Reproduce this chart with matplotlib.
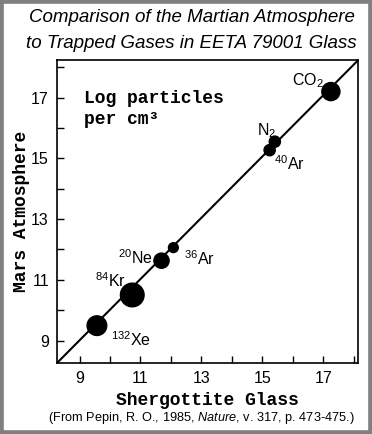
import matplotlib.pyplot as plt
from matplotlib.patches import Rectangle

plt.rcParams["mathtext.fontset"] = "custom"
plt.rcParams["mathtext.rm"] = "Liberation Sans"
plt.rcParams["mathtext.it"] = "Liberation Sans:italic"

# log particles per cm^3
gases = ["132Xe", "84Kr", "20Ne", "36Ar", "40Ar", "N2", "CO2"]
glass = [9.57, 10.73, 11.69, 12.08, 15.24, 15.41, 17.25]
mars = [9.49, 10.50, 11.63, 12.06, 15.27, 15.55, 17.20]
dot_sizes = [200, 290, 120, 50, 65, 65, 170]
labels = [r"$\mathrm{^{132}Xe}$", r"$\mathrm{^{84}Kr}$", r"$\mathrm{^{20}Ne}$",
          r"$\mathrm{^{36}Ar}$", r"$\mathrm{^{40}Ar}$", r"$\mathrm{N_2}$", r"$\mathrm{CO_2}$"]
label_offsets = [(10, -10), (-27, 10), (-31, 2), (8, -8), (3, -10), (-13, 8), (-28, 8)]
xticks = [9, 11, 13, 15, 17]
yticks = [9, 11, 13, 15, 17]

W, H = 372, 434
fig = plt.figure(figsize=(W / 100, H / 100), dpi=100)
fig.add_artist(Rectangle((0, 0), 1, 1, transform=fig.transFigure, fill=False,
                         edgecolor="#808080", linewidth=5.5))

ax = fig.add_axes([57.3 / W, 1 - 362.7 / H, 301 / W, 302.7 / H])
lo, hi_x, hi_y = 8.27, 18.15, 18.24
ax.set_xlim(lo, hi_x)
ax.set_ylim(lo, hi_y)
ax.plot([lo, hi_x], [lo, hi_y], color="black", linewidth=1.5)
ax.scatter(glass, mars, s=dot_sizes, color="black", zorder=3)

for x, y, lab, (dx, dy) in zip(glass, mars, labels, label_offsets):
    ax.annotate(lab, (x, y), xytext=(dx, dy), textcoords="offset points",
                fontsize=11.5, ha="left", va="center")

ax.set_xticks(xticks)
ax.set_yticks(yticks)
ax.set_xticks(range(10, 19, 2), minor=True)
ax.set_yticks(range(10, 19, 2), minor=True)
ax.tick_params(which="both", direction="in", length=5, width=1,
               labelsize=11.5, pad=6)
for lab in ax.get_xticklabels() + ax.get_yticklabels():
    lab.set_family("Liberation Sans")
for s in ax.spines.values():
    s.set_linewidth(1.2)

ax.text(0.09, 0.90, "Log particles\nper cm³", transform=ax.transAxes,
        family="Liberation Mono", fontweight="bold", fontsize=13,
        ha="left", va="top", linespacing=1.3)

ax.set_xlabel("Shergottite Glass", family="Liberation Mono", fontweight="bold",
              fontsize=13, labelpad=4)
ax.set_ylabel("Mars Atmosphere", family="Liberation Mono", fontweight="bold",
              fontsize=13, labelpad=1)

fig.text(0.515, 1 - 17 / H, "Comparison of the Martian Atmosphere",
         family="Liberation Sans", style="italic", fontsize=13.5,
         ha="center", va="center")
fig.text(0.515, 1 - 43 / H, "to Trapped Gases in EETA 79001 Glass",
         family="Liberation Sans", style="italic", fontsize=13.5,
         ha="center", va="center")
fig.text(0.542, 1 - 418 / H,
         r"(From Pepin, R. O., 1985, $\mathit{Nature}$, v. 317, p. 473-475.)",
         family="Liberation Sans", fontsize=9.2, ha="center", va="center")

fig.savefig("out.png", dpi=100)
